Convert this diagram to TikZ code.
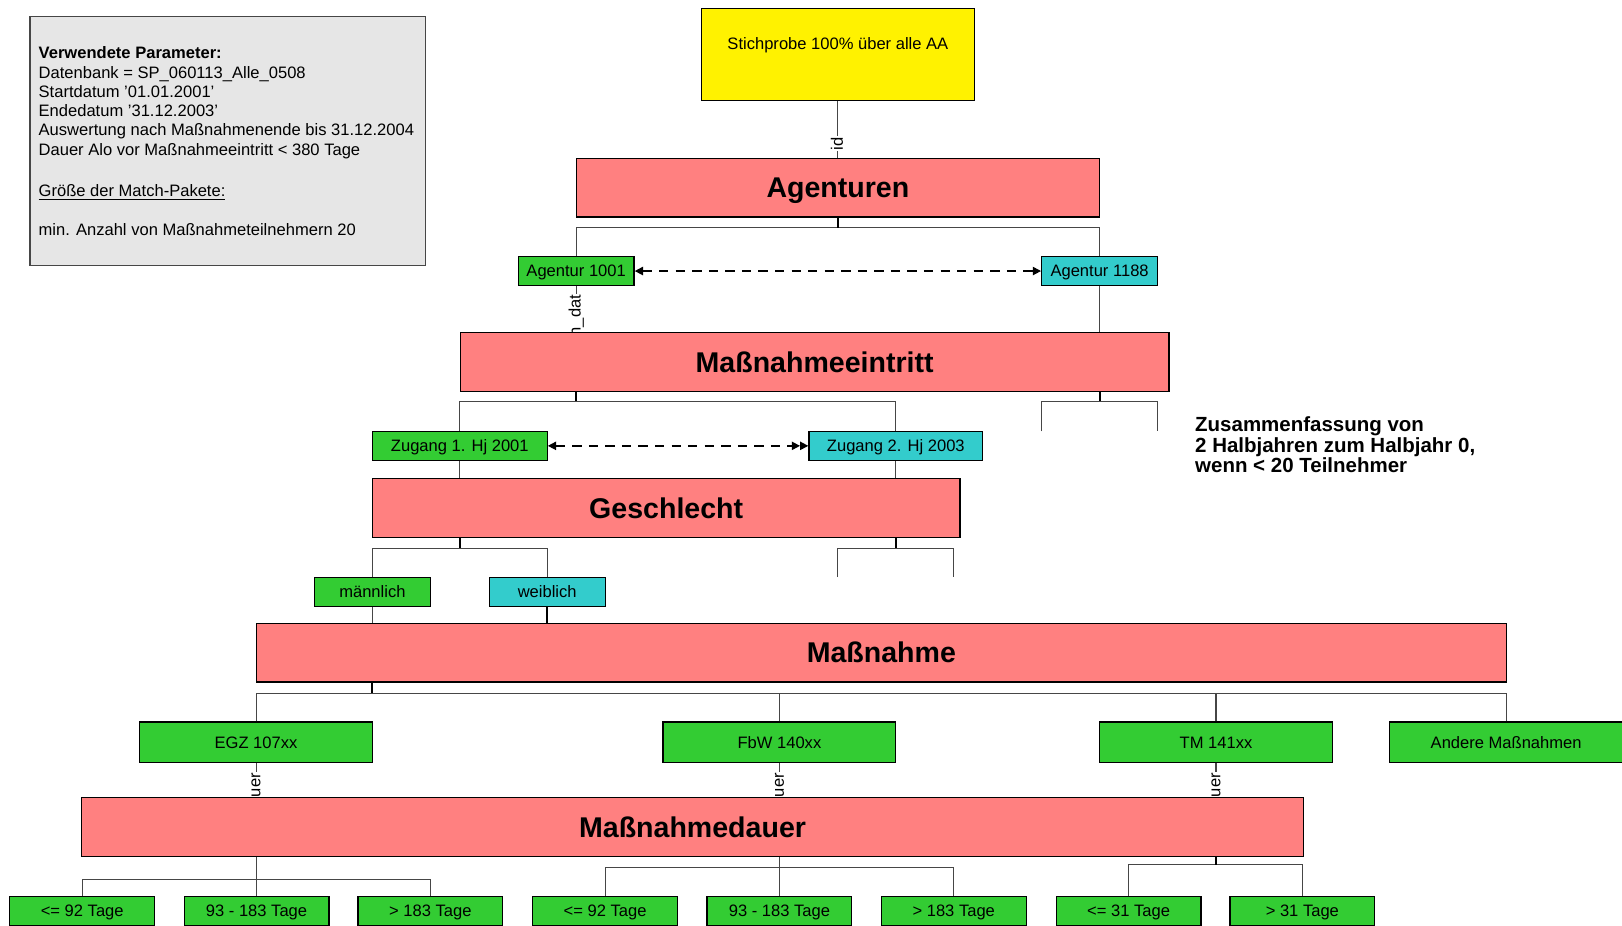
\documentclass[tikz,border=0pt]{standalone}
\usepackage{fontspec}
\setmainfont{Liberation Sans}
\usetikzlibrary{arrows.meta}
\definecolor{boxred}{RGB}{255,128,128}
\definecolor{boxgreen}{RGB}{51,204,51}
\definecolor{boxcyan}{RGB}{51,204,204}
\definecolor{paramgray}{RGB}{230,230,230}
\definecolor{linegray}{RGB}{70,70,70}
\pgfdeclarelayer{background}
\pgfsetlayers{background,main}
\begin{document}
\begin{tikzpicture}[x=0.5pt,y=-0.5pt,
  small/.style={font=\fontsize{8}{9.5}\selectfont, inner sep=0pt},
  bold10/.style={font=\bfseries\fontsize{9.9}{10}\selectfont, inner sep=0pt},
  big/.style={draw=black,line width=0.6pt,fill=boxred,inner sep=0pt,minimum height=28.25pt,text height=9.9pt,text depth=0pt,font=\bfseries\fontsize{13.8}{16}\selectfont},
  leaf/.style={draw=black,line width=0.6pt,inner sep=0pt,minimum height=14pt,text height=5.7pt,text depth=0pt,font=\fontsize{8}{9.5}\selectfont},
  gbox/.style={leaf,fill=boxgreen},
  cbox/.style={leaf,fill=boxcyan},
  conn/.style={draw=linegray,line width=0.5pt},
  stub/.style={draw=black,line width=1pt},
  edgelbl/.style={rotate=90,fill=white,inner sep=0.6pt,font=\fontsize{8}{9}\selectfont},
  dasharrow/.style={draw=black,line width=0.75pt,dash pattern=on 4.5pt off 3.5pt}
]
\useasboundingbox (0,0) rectangle (1568,895);

% parameter box
\node[draw=linegray,line width=0.5pt,fill=paramgray,minimum width=191pt,minimum height=120.5pt,inner sep=0pt] (param) at (220,136.5) {};
\node[small,anchor=base west,font=\bfseries\fontsize{8}{9.5}\selectfont] (pa) at (37,57) {Verwendete Parameter:};
\node[small,anchor=base west] (pb) at (37,75.6) {Datenbank = SP\_060113\_Alle\_0508};
\node[small,anchor=base west] (pc) at (37,94.2) {Startdatum '01.01.2001'};
\node[small,anchor=base west] (pd) at (37,112.8) {Endedatum '31.12.2003'};
\node[small,anchor=base west] (pe) at (37,131.4) {Auswertung nach Maßnahmenende bis 31.12.2004};
\node[small,anchor=base west] (pf) at (37,150) {Dauer Alo vor Maßnahmeeintritt < 380 Tage};
\node[small,anchor=base west] (pg) at (37,190) {\underline{Größe der Match-Pakete:}};
\node[small,anchor=base west] (ph) at (37,227.6) {min. Anzahl von Maßnahmeteilnehmern 20};

% top
\node[draw=black,line width=0.6pt,fill=yellow,minimum width=132pt,minimum height=44.5pt,inner sep=0pt] (stich) at (810,52.5) {};
\node[small] (stichtxt) at (810,44) {Stichprobe 100\% über alle AA};

% big boxes
\node[big,minimum width=253pt] (agent) at (810,181.5) {Agenturen};
\node[big,minimum width=342.5pt] (meintr) at (787.5,350) {Maßnahmeeintritt};
\node[big,minimum width=284pt] (gesch) at (644,491) {Geschlecht};
\node[big,minimum width=604pt] (massn) at (852,631) {Maßnahme};
\node[big,minimum width=590.5pt] (mdauer) at (669.5,799.5) {Maßnahmedauer};

% level nodes
\node[gbox,minimum width=56pt] (ag1) at (557,262) {Agentur 1001};
\node[cbox,minimum width=56pt] (ag2) at (1063,262) {Agentur 1188};
\node[gbox,minimum width=84.5pt] (z1) at (444.5,431) {Zugang 1. Hj 2001};
\node[cbox,minimum width=84pt] (z2) at (866,431) {Zugang 2. Hj 2003};
\node[gbox,minimum width=56pt] (mann) at (360,572) {männlich};
\node[cbox,minimum width=56pt] (weib) at (529,572) {weiblich};
\node[gbox,minimum width=112.5pt,minimum height=19.5pt] (egz) at (247.5,717.5) {EGZ 107xx};
\node[gbox,minimum width=112.5pt,minimum height=19.5pt] (fbw) at (753.5,717.5) {FbW 140xx};
\node[gbox,minimum width=112.5pt,minimum height=19.5pt] (tm) at (1175.5,717.5) {TM 141xx};
\node[gbox,minimum width=112.5pt,minimum height=19.5pt] (andere) at (1456,717.5) {Andere Maßnahmen};

% bottom nodes
\node[gbox,minimum width=70pt] (d1) at (79.5,880.5) {<= 92 Tage};
\node[gbox,minimum width=70pt] (d2) at (248,880.5) {93 - 183 Tage};
\node[gbox,minimum width=70pt] (d3) at (416,880.5) {> 183 Tage};
\node[gbox,minimum width=70pt] (d4) at (585,880.5) {<= 92 Tage};
\node[gbox,minimum width=70pt] (d5) at (753.5,880.5) {93 - 183 Tage};
\node[gbox,minimum width=70pt] (d6) at (922,880.5) {> 183 Tage};
\node[gbox,minimum width=70pt] (d7) at (1091,880.5) {<= 31 Tage};
\node[gbox,minimum width=70pt] (d8) at (1259,880.5) {> 31 Tage};

% note
\node[bold10,anchor=base west] (zs1) at (1155,417) {Zusammenfassung von};
\node[bold10,anchor=base west] (zs2) at (1155,437) {2 Halbjahren zum Halbjahr 0,};
\node[bold10,anchor=base west] (zs3) at (1155,456.5) {wenn < 20 Teilnehmer};

% bus coordinates
\coordinate (busA) at (810,220);
\coordinate (busM) at (557,388);
\coordinate (busM2) at (1063,388);
\coordinate (openA) at (1007,417);
\coordinate (openB) at (1119,417);
\coordinate (busG) at (445,530);
\coordinate (busG2) at (866,530);
\coordinate (openC) at (810,558);
\coordinate (openD) at (922,558);
\coordinate (busS) at (360,670);
\coordinate (busD1) at (248,850);
\coordinate (busD2) at (753.5,839);
\coordinate (busD3) at (1175.5,836);

\begin{pgfonlayer}{background}
% top
\draw[conn] (stich.south) -- (stich.south |- agent.north);
\node[edgelbl] (lid) at (809,139) {id};
\draw[conn] (ag1.north) |- (busA) -| (ag2.north);
\draw[stub] (busA |- agent.south) -- (busA);
% level 2
\draw[conn] (ag1.south) -- (ag1.south |- meintr.north);
\node[edgelbl] (ldat) at (557,305) {n\_dat};
\draw[conn] (ag2.south) -- (ag2.south |- meintr.north);
\draw[conn] (z1.north) |- (busM) -| (z2.north);
\draw[stub] (busM |- meintr.south) -- (busM);
\draw[conn] (openA) |- (busM2) -| (openB);
\draw[stub] (busM2 |- meintr.south) -- (busM2);
% level 3
\draw[conn] (z1.south) -- (z1.south |- gesch.north);
\draw[conn] (z2.south) -- (z2.south |- gesch.north);
\draw[conn] (mann.north) |- (busG) -| (weib.north);
\draw[stub] (busG |- gesch.south) -- (busG);
\draw[conn] (openC) |- (busG2) -| (openD);
\draw[stub] (busG2 |- gesch.south) -- (busG2);
% level 4
\draw[conn] (mann.south) -- (mann.south |- massn.north);
\draw[stub] (weib.south) -- (weib.south |- massn.north);
\draw[conn] (egz.north) |- (busS) -| (andere.north);
\draw[conn] (fbw.north) -- (fbw.north |- busS);
\draw[conn] (tm.north) -- (tm.north |- busS);
\draw[stub] (busS |- massn.south) -- (busS);
% level 5
\draw[conn] (egz.south) -- (egz.south |- mdauer.north);
\node[edgelbl] (luer1) at (247.5,759) {uer};
\draw[conn] (fbw.south) -- (fbw.south |- mdauer.north);
\node[edgelbl] (luer2) at (753.5,759) {uer};
\draw[conn] (tm.south) -- (tm.south |- mdauer.north);
\node[edgelbl] (luer3) at (1175.5,759) {uer};
% level 6
\draw[conn] (d2.north |- mdauer.south) -- (d2.north);
\draw[conn] (d1.north) |- (busD1) -| (d3.north);
\draw[conn] (d5.north |- mdauer.south) -- (d5.north);
\draw[conn] (d4.north) |- (busD2) -| (d6.north);
\draw[conn] (d7.north) |- (busD3) -| (d8.north);
\draw[stub] (busD3 |- mdauer.south) -- (busD3);
\end{pgfonlayer}

% dashed arrows
\draw[dasharrow,{Triangle[length=4pt,width=4pt]}-{Triangle[length=4pt,width=4pt]}] (ag1.east) -- (ag2.west);
\draw[dasharrow,{Triangle[length=4pt,width=4pt]}-{Triangle[length=4pt,width=4pt]Triangle[length=4pt,width=4pt]}] (z1.east) -- (z2.west);
\end{tikzpicture}
\end{document}
